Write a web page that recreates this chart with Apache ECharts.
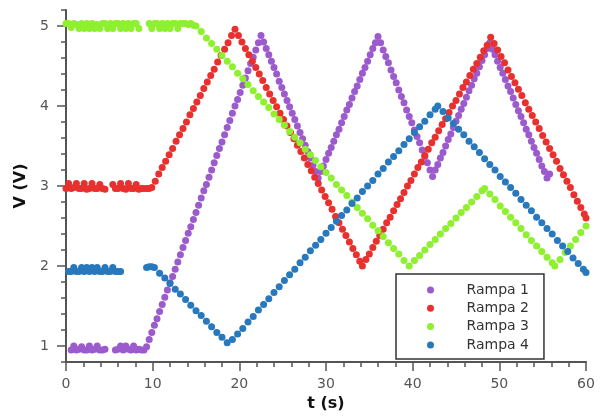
<!DOCTYPE html>
<html>
<head>
<meta charset="utf-8">
<script src="https://cdn.jsdelivr.net/npm/echarts@6/dist/echarts.min.js"></script>
<style>
  html, body { margin: 0; padding: 0; background: #fff; }
  #chart { width: 601px; height: 417px; }
</style>
</head>
<body>
<div id="chart"></div>
<script>
// Each entry is [t (s), V (V)].
const seriesNames = ["Rampa 1", "Rampa 2", "Rampa 3", "Rampa 4"]
const yMajorTicks = [1, 2, 3, 4, 5]

const rampa1 = [
  [0.6,0.95],[0.9,1.0],[1.2,0.95],[1.5,0.96],[1.8,0.99],[2.1,0.95],[2.4,0.95],[2.7,1.0],[3.0,0.95],[3.3,0.96],
  [3.6,1.0],[3.9,0.95],[4.2,0.95],[4.5,0.96],[5.7,0.95],[6.0,0.96],[6.3,1.0],[6.6,0.95],[6.9,1.0],[7.2,0.96],
  [7.5,0.95],[7.8,1.0],[8.1,0.95],[8.4,0.96],[8.7,0.95],[9.0,0.95],
  [9.3,0.99],[9.6,1.08],[9.9,1.17],[10.2,1.26],[10.5,1.34],[10.8,1.43],[11.1,1.52],[11.4,1.61],[11.7,1.70],
  [12.0,1.79],[12.3,1.87],[12.6,1.96],[12.9,2.05],[13.2,2.14],[13.5,2.23],[13.8,2.32],[14.1,2.41],[14.4,2.49],
  [14.7,2.58],[15.0,2.67],[15.3,2.76],[15.6,2.85],[15.9,2.94],[16.2,3.02],[16.5,3.11],[16.8,3.20],[17.1,3.29],
  [17.4,3.38],[17.7,3.47],[18.0,3.55],[18.3,3.64],[18.6,3.73],[18.9,3.82],[19.2,3.91],[19.5,4.00],[19.8,4.08],
  [20.1,4.17],[20.4,4.26],[20.7,4.35],[21.0,4.44],[21.3,4.53],[21.6,4.61],[21.9,4.70],[22.2,4.79],[22.5,4.88],
  [22.8,4.80],[23.1,4.72],[23.4,4.64],[23.7,4.56],[24.0,4.48],[24.3,4.40],[24.6,4.31],[24.9,4.23],[25.2,4.15],
  [25.5,4.07],[25.8,3.99],[26.1,3.91],[26.4,3.83],[26.7,3.75],[27.0,3.67],[27.3,3.59],[27.6,3.51],[27.9,3.43],
  [28.2,3.35],[28.5,3.26],[28.8,3.18],[29.1,3.10],
  [29.4,3.18],[29.7,3.25],[30.0,3.33],[30.3,3.41],[30.6,3.48],[30.9,3.56],[31.2,3.64],[31.5,3.71],[31.8,3.79],
  [32.1,3.87],[32.4,3.95],[32.7,4.02],[33.0,4.10],[33.3,4.18],[33.6,4.25],[33.9,4.33],[34.2,4.41],[34.5,4.48],
  [34.8,4.56],[35.1,4.64],[35.4,4.72],[35.7,4.79],[36.0,4.87],
  [36.3,4.79],[36.6,4.70],[36.9,4.62],[37.2,4.54],[37.5,4.45],[37.8,4.37],[38.1,4.29],[38.4,4.20],[38.7,4.12],
  [39.0,4.04],[39.3,3.95],[39.6,3.87],[39.9,3.79],[40.2,3.70],[40.5,3.62],[40.8,3.54],[41.1,3.45],[41.4,3.37],
  [41.7,3.29],[42.0,3.20],[42.3,3.12],
  [42.6,3.20],[42.9,3.27],[43.2,3.35],[43.5,3.42],[43.8,3.50],[44.1,3.58],[44.4,3.65],[44.7,3.73],[45.0,3.81],
  [45.3,3.88],[45.6,3.96],[45.9,4.03],[46.2,4.11],[46.5,4.19],[46.8,4.26],[47.1,4.34],[47.4,4.41],[47.7,4.49],
  [48.0,4.57],[48.3,4.64],[48.6,4.72],[48.9,4.79],
  [49.2,4.71],[49.5,4.64],[49.8,4.56],[50.1,4.48],[50.4,4.41],[50.7,4.33],[51.0,4.25],[51.3,4.18],[51.6,4.10],
  [51.9,4.02],[52.2,3.94],[52.5,3.87],[52.8,3.79],[53.1,3.71],[53.4,3.64],[53.7,3.56],[54.0,3.48],[54.3,3.41],
  [54.6,3.33],[54.9,3.25],[55.2,3.18],[55.5,3.10],[55.8,3.15]
]

const rampa2 = [
  [0,2.97],[0.3,3.03],[0.6,2.97],[0.9,2.98],[1.2,3.03],[1.5,2.97],[1.8,2.97],[2.1,3.03],[2.4,2.96],[2.7,2.97],
  [3.0,3.03],[3.3,2.97],[3.6,2.97],[3.9,3.02],[4.2,2.97],[4.5,2.96],[5.4,3.02],[5.7,2.97],[6.0,2.97],[6.3,3.03],
  [6.6,2.97],[6.9,2.96],[7.2,3.03],[7.5,2.97],[7.8,2.97],[8.1,3.02],[8.4,2.96],[8.7,2.97],[9.0,2.97],[9.3,2.97],
  [9.6,2.97],[9.9,2.98],
  [10.3,3.06],[10.7,3.15],[11.1,3.23],[11.5,3.31],[11.9,3.39],[12.3,3.47],[12.7,3.56],[13.1,3.64],[13.5,3.72],
  [13.9,3.80],[14.3,3.89],[14.7,3.97],[15.1,4.05],[15.5,4.13],[15.9,4.22],[16.3,4.30],[16.7,4.38],[17.1,4.46],
  [17.5,4.55],[17.9,4.63],[18.3,4.71],[18.7,4.79],[19.1,4.88],[19.5,4.96],
  [19.9,4.88],[20.3,4.80],[20.7,4.72],[21.1,4.64],[21.5,4.56],[21.9,4.48],[22.3,4.40],[22.7,4.32],[23.1,4.23],
  [23.5,4.15],[23.9,4.07],[24.3,3.99],[24.7,3.91],[25.1,3.83],[25.5,3.75],[25.9,3.67],[26.3,3.59],[26.7,3.51],
  [27.1,3.43],[27.5,3.35],[27.9,3.27],[28.3,3.19],[28.7,3.11],[29.1,3.03],[29.5,2.95],[29.9,2.87],[30.3,2.79],
  [30.7,2.71],[31.1,2.62],[31.5,2.54],[31.9,2.46],[32.3,2.38],[32.7,2.30],[33.1,2.22],[33.5,2.14],[33.9,2.06],
  [34.2,2.00],
  [34.6,2.08],[35.0,2.15],[35.4,2.23],[35.8,2.31],[36.2,2.38],[36.6,2.46],[37.0,2.54],[37.4,2.61],[37.8,2.69],
  [38.2,2.77],[38.6,2.84],[39.0,2.92],[39.4,3.00],[39.8,3.07],[40.2,3.15],[40.6,3.23],[41.0,3.30],[41.4,3.38],
  [41.8,3.46],[42.2,3.54],[42.6,3.61],[43.0,3.69],[43.4,3.77],[43.8,3.84],[44.2,3.92],[44.6,4.00],[45.0,4.07],
  [45.4,4.15],[45.8,4.23],[46.2,4.30],[46.6,4.38],[47.0,4.46],[47.4,4.53],[47.8,4.61],[48.2,4.69],[48.6,4.76],
  [49.0,4.86],
  [49.4,4.78],[49.8,4.70],[50.2,4.62],[50.6,4.54],[51.0,4.45],[51.4,4.37],[51.8,4.29],[52.2,4.21],[52.6,4.13],
  [53.0,4.04],[53.4,3.96],[53.8,3.88],[54.2,3.80],[54.6,3.72],[55.0,3.63],[55.4,3.55],[55.8,3.47],[56.2,3.39],
  [56.6,3.31],[57.0,3.22],[57.4,3.14],[57.8,3.06],[58.2,2.98],[58.6,2.89],[59.0,2.81],[59.4,2.73],[59.8,2.65],
  [60.0,2.60]
]

const rampa3 = [
  [0,5.03],[0.3,5.03],[0.6,4.98],[0.9,5.03],[1.2,5.02],[1.5,4.97],[1.8,5.03],[2.1,4.97],[2.4,5.03],[2.7,4.97],
  [3.0,5.03],[3.3,4.97],[3.6,5.02],[3.9,4.97],[4.2,5.03],[4.5,5.03],[4.8,4.97],[5.1,5.03],[5.4,4.97],[5.7,5.03],
  [6.0,5.03],[6.3,4.97],[6.6,5.03],[6.9,4.97],[7.2,5.03],[7.5,4.97],[7.8,5.03],[8.1,5.03],[8.4,4.97],[9.6,5.03],
  [9.9,4.97],[10.2,5.03],[10.5,5.03],[10.8,4.97],[11.1,5.03],[11.4,4.97],[11.7,5.03],[12.0,4.97],[12.3,5.03],
  [12.6,5.03],[12.9,4.97],[13.2,5.03],[13.5,5.03],[13.8,5.03],[14.1,5.02],[14.4,5.03],[14.7,5.01],[15.0,5.00],
  [15.6,4.93],[16.2,4.85],[16.8,4.78],[17.4,4.71],[18.0,4.63],[18.6,4.56],[19.2,4.49],[19.8,4.41],[20.4,4.34],
  [21.0,4.27],[21.6,4.19],[22.2,4.12],[22.8,4.05],[23.4,3.98],[24.0,3.90],[24.6,3.83],[25.2,3.76],[25.8,3.68],
  [26.4,3.61],[27.0,3.54],[27.6,3.46],[28.2,3.39],[28.8,3.32],[29.4,3.24],[30.0,3.17],[30.6,3.10],[31.2,3.02],
  [31.8,2.95],[32.4,2.88],[33.0,2.80],[33.6,2.73],[34.2,2.66],[34.8,2.59],[35.4,2.51],[36.0,2.44],[36.6,2.37],
  [37.2,2.29],[37.8,2.22],[38.4,2.15],[39.0,2.07],[39.6,2.00],
  [40.2,2.07],[40.8,2.13],[41.4,2.20],[42.0,2.27],[42.6,2.33],[43.2,2.40],[43.8,2.47],[44.4,2.53],[45.0,2.60],
  [45.6,2.67],[46.2,2.73],[46.8,2.80],[47.4,2.87],[48.0,2.94],[48.3,2.97],
  [48.9,2.90],[49.5,2.83],[50.1,2.75],[50.7,2.68],[51.3,2.61],[51.9,2.54],[52.5,2.47],[53.1,2.39],[53.7,2.32],
  [54.3,2.25],[54.9,2.18],[55.5,2.11],[56.1,2.04],[56.4,2.00],
  [57.0,2.08],[57.6,2.17],[58.2,2.25],[58.8,2.33],[59.4,2.42],[60.0,2.50]
]

const rampa4 = [
  [0.3,1.93],[0.6,1.93],[0.9,1.98],[1.2,1.93],[1.5,1.93],[1.8,1.98],[2.1,1.93],[2.4,1.98],[2.7,1.93],[3.0,1.98],
  [3.3,1.93],[3.6,1.98],[3.9,1.93],[4.2,1.93],[4.5,1.98],[4.8,1.93],[5.1,1.93],[5.4,1.98],[5.7,1.93],[6.0,1.93],
  [6.3,1.93],[9.3,1.98],[9.6,1.99],[9.9,1.99],[10.2,1.98],
  [10.8,1.91],[11.4,1.85],[12.0,1.78],[12.6,1.71],[13.2,1.65],[13.8,1.58],[14.4,1.51],[15.0,1.44],[15.6,1.38],
  [16.2,1.31],[16.8,1.24],[17.4,1.17],[18.0,1.11],[18.6,1.04],
  [19.2,1.08],[19.8,1.15],[20.4,1.22],[21.0,1.30],[21.6,1.37],[22.2,1.45],[22.8,1.52],[23.4,1.59],[24.0,1.67],
  [24.6,1.74],[25.2,1.82],[25.8,1.89],[26.4,1.96],[27.0,2.04],[27.6,2.11],[28.2,2.19],[28.8,2.26],[29.4,2.33],
  [30.0,2.41],[30.6,2.48],[31.2,2.56],[31.8,2.63],[32.4,2.70],[33.0,2.78],[33.6,2.85],[34.2,2.93],[34.8,3.00],
  [35.4,3.07],[36.0,3.15],[36.6,3.22],[37.2,3.30],[37.8,3.37],[38.4,3.44],[39.0,3.52],[39.6,3.59],[40.2,3.67],
  [40.8,3.74],[41.4,3.81],[42.0,3.89],[42.6,3.96],[42.9,4.00],
  [43.5,3.93],[44.1,3.85],[44.7,3.78],[45.3,3.71],[45.9,3.64],[46.5,3.56],[47.1,3.49],[47.7,3.42],[48.3,3.34],
  [48.9,3.27],[49.5,3.20],[50.1,3.12],[50.7,3.05],[51.3,2.98],[51.9,2.91],[52.5,2.83],[53.1,2.76],[53.7,2.69],
  [54.3,2.61],[54.9,2.54],[55.5,2.47],[56.1,2.40],[56.7,2.32],[57.3,2.25],[57.9,2.18],[58.5,2.10],[59.1,2.03],
  [59.7,1.96],[60.0,1.92]
]

const palette = ["#9b5bcc", "#e8302e", "#8ef02e", "#2878bd"]
const axisColor = "#555"
const font = "DejaVu Sans"

const chart = echarts.init(document.getElementById("chart"), null, { renderer: "canvas" })

chart.setOption({
  animation: false,
  grid: { left: 66, right: 15, top: 10, bottom: 54 },
  legend: {
    orient: "vertical",
    left: 396,
    top: 274,
    padding: [8, 15, 6, 31],
    borderColor: "#333",
    borderWidth: 1.5,
    backgroundColor: "#fff",
    icon: "circle",
    itemWidth: 10,
    itemHeight: 7,
    itemGap: 2.3,
    textStyle: { fontFamily: font, fontSize: 14, color: "#333", lineHeight: 16, padding: [0, 0, 0, 26] },
    data: seriesNames,
  },
  xAxis: {
    type: "value",
    min: 0,
    max: 60,
    interval: 10,
    axisLine: { show: true, onZero: false, lineStyle: { color: axisColor, width: 2 } },
    axisTick: { show: true, length: 9, lineStyle: { color: axisColor, width: 1.5 } },
    minorTick: { show: true, splitNumber: 5, length: 5, lineStyle: { color: axisColor, width: 1.5 } },
    splitLine: { show: false },
    axisLabel: { color: axisColor, fontFamily: font, fontSize: 14, margin: 15 },
    name: "t (s)",
    nameLocation: "middle",
    nameGap: 34,
    nameTextStyle: { fontFamily: font, fontWeight: "bold", fontSize: 16, color: "#111" },
  },
  yAxis: [
    {
      type: "value",
      min: 0.8,
      max: 5.2,
      axisLine: { show: true, onZero: false, lineStyle: { color: axisColor, width: 2 } },
      axisTick: { show: true, customValues: yMajorTicks, length: 9, lineStyle: { color: axisColor, width: 1.5 } },
      axisLabel: { customValues: yMajorTicks, color: axisColor, fontFamily: font, fontSize: 14, margin: 17 },
      splitLine: { show: false },
      name: "V (V)",
      nameLocation: "middle",
      nameGap: 34,
      nameTextStyle: { fontFamily: font, fontWeight: "bold", fontSize: 16, color: "#111" },
    },
    {
      // minor ticks only
      type: "value",
      position: "left",
      min: 0.8,
      max: 5.2,
      interval: 0.2,
      axisLine: { show: false },
      axisTick: { show: true, length: 5, lineStyle: { color: axisColor, width: 1.5 } },
      axisLabel: { show: false },
      splitLine: { show: false },
    },
  ],
  series: [rampa1, rampa2, rampa3, rampa4].map((data, i) => ({
    name: seriesNames[i],
    type: "scatter",
    data: data,
    symbolSize: 7,
    itemStyle: { color: palette[i], opacity: 1 },
  })),
})
</script>
</body>
</html>
